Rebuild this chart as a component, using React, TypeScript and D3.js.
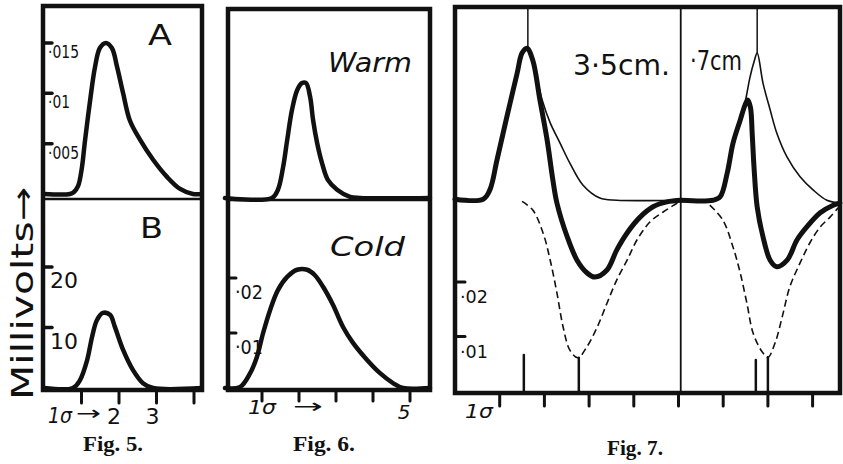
import React, { useEffect, useRef } from 'react'
import * as d3 from 'd3'

// time in sigma (ms) , value in the panel's own units
// Fig. 5 A  (volts)
const fig5A = [[0, 0], [0.69, 0], [0.80, 0.0002], [0.91, 0.0008], [1.01, 0.0026], [1.09, 0.0052], [1.23, 0.0093], [1.36, 0.0126], [1.49, 0.0145], [1.65, 0.0150], [1.81, 0.0145], [1.95, 0.0126], [2.11, 0.0100], [2.29, 0.0073], [2.56, 0.0054], [2.91, 0.0034], [3.28, 0.0017], [3.63, 0.0005], [3.97, 0], [4.21, 0]]
// Fig. 5 B  (millivolts)
const fig5B = [[0, 0], [0.77, 0], [0.96, 1.3], [1.15, 4.6], [1.28, 8.4], [1.41, 11.2], [1.57, 12.4], [1.76, 12.1], [1.89, 10.1], [2.11, 6.3], [2.37, 3.0], [2.64, 0.8], [2.91, 0], [4.21, 0]]
const fig5XTicks = [1, 2, 3, 4]
const fig5ATicks = [0.005, 0.01, 0.015]
const fig5ATickLabels = ['·005', '·01', '·015']
const fig5BTicks = [10, 20]
const fig5BTickLabels = ['10', '20']

// Fig. 6
const fig6Warm = [[0, 0], [1.27, 0], [1.43, 0.0015], [1.57, 0.0056], [1.68, 0.0105], [1.81, 0.0160], [1.95, 0.0196], [2.08, 0.0209], [2.19, 0.0209], [2.30, 0.0184], [2.38, 0.0142], [2.49, 0.0100], [2.62, 0.0064], [2.78, 0.0033], [3.03, 0.0015], [3.38, 0.0002], [3.65, 0], [5.54, 0]]
const fig6Cold = [[0, 0], [0.41, 0.0002], [0.68, 0.0027], [0.86, 0.0056], [1.03, 0.0100], [1.22, 0.0142], [1.43, 0.0178], [1.68, 0.0202], [1.95, 0.0215], [2.22, 0.0215], [2.43, 0.0205], [2.65, 0.0184], [2.92, 0.0151], [3.19, 0.0111], [3.46, 0.0082], [3.84, 0.0051], [4.19, 0.0027], [4.54, 0.0009], [4.81, 0], [5.54, 0]]
const fig6XTicks = [1, 2, 3, 4, 5]
const fig6YTicks = [0.01, 0.02]
const fig6YTickLabels = ['·01', '·02']

// Fig. 7  (3.5 cm and .7 cm)
const fig7Thick35 = [[0, 0.0352], [0.63, 0.0352], [0.78, 0.0369], [0.94, 0.0424], [1.16, 0.0503], [1.39, 0.0583], [1.50, 0.0620], [1.61, 0.0629], [1.74, 0.0607], [1.90, 0.0534], [2.06, 0.0461], [2.19, 0.0387], [2.28, 0.0345], [2.51, 0.0283], [2.73, 0.0240], [2.95, 0.0217], [3.13, 0.0209], [3.40, 0.0222], [3.62, 0.0259], [3.85, 0.0290], [4.14, 0.0319], [4.43, 0.0338], [4.74, 0.0347], [5.06, 0.0350]]
const fig7Thin35 = [[1.50, 0.0620], [1.61, 0.0629], [1.74, 0.0604], [1.95, 0.0534], [2.13, 0.0492], [2.35, 0.0455], [2.57, 0.0418], [2.86, 0.0378], [3.24, 0.0354], [3.62, 0.0350], [5.06, 0.0350], [5.77, 0.0350]]
const fig7Dash35 = [[1.50, 0.0348], [1.74, 0.0332], [1.97, 0.0290], [2.13, 0.0240], [2.28, 0.0180], [2.42, 0.0117], [2.57, 0.0075], [2.75, 0.0061], [2.95, 0.0081], [3.18, 0.0117], [3.40, 0.0161], [3.62, 0.0204], [3.85, 0.0240], [4.07, 0.0277], [4.36, 0.0310], [4.65, 0.0328], [4.97, 0.0345], [5.06, 0.0350]]
const fig7Thick07 = [[5.06, 0.0350], [5.77, 0.0350], [5.93, 0.0356], [6.09, 0.0400], [6.22, 0.0455], [6.38, 0.0497], [6.49, 0.0525], [6.55, 0.0534], [6.61, 0.0520], [6.65, 0.0470], [6.69, 0.0410], [6.76, 0.0338], [6.89, 0.0283], [7.05, 0.0240], [7.20, 0.0228], [7.43, 0.0240], [7.65, 0.0277], [7.87, 0.0301], [8.17, 0.0327], [8.46, 0.0341], [8.61, 0.0345]]
const fig7Thin07 = [[6.38, 0.0497], [6.49, 0.0530], [6.60, 0.0576], [6.69, 0.0604], [6.76, 0.0620], [6.89, 0.0565], [7.05, 0.0516], [7.20, 0.0473], [7.43, 0.0429], [7.72, 0.0393], [8.01, 0.0369], [8.32, 0.0350], [8.61, 0.0345]]
const fig7Dash07 = [[5.70, 0.0341], [5.99, 0.0314], [6.22, 0.0264], [6.38, 0.0217], [6.53, 0.0161], [6.67, 0.0106], [6.87, 0.0072], [7.00, 0.0062], [7.16, 0.0088], [7.32, 0.0136], [7.49, 0.0191], [7.72, 0.0235], [7.94, 0.0272], [8.17, 0.0301], [8.39, 0.0319], [8.57, 0.0336]]
const fig7Markers = [[1.54, 0.0066], [2.77, 0.0061], [6.73, 0.0057], [7.00, 0.0062]]
const fig7PeakLines = [[1.63, 0.0631], [6.76, 0.0620]]
const fig7Middle = 5.05
const fig7XTicks = [1, 2, 3, 4, 5, 6, 7, 8]
const fig7YTicks = [0.01, 0.02]
const fig7YTickLabels = ['·01', '·02']

const INK = '#111'
const HAND = '"DejaVu Sans", sans-serif'
const PRINT = '"Liberation Serif", serif'

export default function App() {
  const ref = useRef<SVGSVGElement>(null)

  useEffect(() => {
    const svg = d3.select(ref.current)
    svg.selectAll('*').remove()

    const curve = (g: any, data: number[][], x: any, y: any, w: number, dash?: string) => {
      const line = d3.line<number[]>()
        .x(d => x(d[0]))
        .y(d => y(d[1]))
        .curve(d3.curveCatmullRom.alpha(0.5))
      const p = g.append('path').datum(data)
        .attr('d', line)
        .attr('fill', 'none')
        .attr('stroke', INK)
        .attr('stroke-width', w)
        .attr('stroke-linejoin', 'round')
        .attr('stroke-linecap', 'round')
      if (dash) p.attr('stroke-dasharray', dash).attr('stroke-linecap', 'butt')
    }
    const txt = (t: string, x: number, y: number, size: number, opts: any = {}) => {
      const e = svg.append('text')
        .attr('x', x).attr('y', y)
        .attr('font-family', opts.family || HAND)
        .attr('font-size', size)
        .attr('fill', INK)
        .attr('text-anchor', opts.anchor || 'start')
        .text(t)
      if (opts.italic) e.attr('font-style', 'italic')
      if (opts.bold) e.attr('font-weight', 'bold')
      if (opts.len) e.attr('textLength', opts.len).attr('lengthAdjust', 'spacingAndGlyphs')
      if (opts.transform) e.attr('transform', opts.transform)
      return e
    }
    const seg = (x1: number, y1: number, x2: number, y2: number, w: number) =>
      svg.append('line').attr('x1', x1).attr('y1', y1).attr('x2', x2).attr('y2', y2)
        .attr('stroke', INK).attr('stroke-width', w).attr('stroke-linecap', 'round')

    // ---------- Fig. 5 ----------
    const x5 = d3.scaleLinear().domain([0, 4]).range([44, 194])
    const yA = d3.scaleLinear().domain([0, 0.015]).range([194, 43])
    const yB = d3.scaleLinear().domain([0, 20]).range([388, 267])
    const g5 = svg.append('g')
    curve(g5, fig5A, x5, yA, 4.5)
    curve(g5, fig5B, x5, yB, 4.5)
    seg(43, 199, 202, 199, 2.5)
    g5.append('rect').attr('x', 43).attr('y', 6).attr('width', 159).attr('height', 384)
      .attr('fill', 'none').attr('stroke', INK).attr('stroke-width', 4.5)
    fig5XTicks.forEach(t => seg(x5(t), 390, x5(t), 403, 3))
    fig5ATicks.forEach((t, i) => {
      seg(43, yA(t), 52, yA(t), 3.5)
      txt(fig5ATickLabels[i], 48, yA(t) + 15, 17, { len: i === 1 ? 22 : 31 })
    })
    fig5BTicks.forEach((t, i) => {
      seg(43, yB(t), 52, yB(t), 3.5)
      txt(fig5BTickLabels[i], 50, yB(t) + 21, 22)
    })
    txt('A', 148, 45, 28, { len: 24 })
    txt('B', 140, 238, 28, { len: 23 })
    txt('1σ', 48, 423, 22, { italic: true, len: 24 })
    txt('→', 76, 420, 20, { len: 25 })
    txt('2', x5(2) - 5, 424, 22, { anchor: 'middle' })
    txt('3', x5(3) - 4, 424, 22, { anchor: 'middle' })
    txt('Millivolts→', 0, 0, 30, { len: 213, transform: 'translate(33,400) rotate(-90)' })
    txt('Fig. 5.', 113, 451, 20, { family: PRINT, bold: true, anchor: 'middle', len: 60 })

    // ---------- Fig. 6 ----------
    const x6 = d3.scaleLinear().domain([0, 5]).range([225, 410])
    const yWarm = d3.scaleLinear().domain([0, 0.02]).range([198, 88])
    const yCold = d3.scaleLinear().domain([0, 0.02]).range([388, 278])
    const g6 = svg.append('g')
    curve(g6, fig6Warm, x6, yWarm, 4.5)
    curve(g6, fig6Cold, x6, yCold, 4.5)
    seg(228, 200, 430, 200, 2.5)
    g6.append('rect').attr('x', 228).attr('y', 9).attr('width', 202).attr('height', 381)
      .attr('fill', 'none').attr('stroke', INK).attr('stroke-width', 4.5)
    fig6XTicks.forEach(t => seg(x6(t), 390, x6(t), 401, 3))
    fig6YTicks.forEach((t, i) => {
      seg(228, yCold(t), 236, yCold(t), 3)
      txt(fig6YTickLabels[i], 235, yCold(t) + 21, 19, { len: 28 })
    })
    txt('Warm', 328, 72, 26, { italic: true, len: 84 })
    txt('Cold', 330, 256, 26, { italic: true, len: 75 })
    txt('1σ', 248, 414, 20, { italic: true, len: 28 })
    txt('→', 293, 413, 20, { len: 30 })
    txt('5', x6(5) - 6, 419, 20, { anchor: 'middle', italic: true })
    txt('Fig. 6.', 324, 451, 20, { family: PRINT, bold: true, anchor: 'middle', len: 62 })

    // ---------- Fig. 7 ----------
    const x7 = d3.scaleLinear().domain([0, 8]).range([455, 812.6])
    const y7 = d3.scaleLinear().domain([0, 0.02]).range([391, 282])
    const g7 = svg.append('g')
    seg(x7(fig7Middle), 7, x7(fig7Middle), 393, 1.8)
    fig7PeakLines.forEach(d => seg(x7(d[0]), 7, x7(d[0]), y7(d[1]), 1.5))
    fig7Markers.forEach(d => seg(x7(d[0]), y7(d[1]), x7(d[0]), 393, 2.5))
    curve(g7, fig7Dash35, x7, y7, 1.6, '7 4')
    curve(g7, fig7Dash07, x7, y7, 1.6, '7 4')
    curve(g7, fig7Thin35, x7, y7, 1.6)
    curve(g7, fig7Thin07, x7, y7, 1.6)
    curve(g7, fig7Thick35, x7, y7, 5)
    curve(g7, fig7Thick07, x7, y7, 5)
    g7.append('rect').attr('x', 455).attr('y', 7).attr('width', 385).attr('height', 386)
      .attr('fill', 'none').attr('stroke', INK).attr('stroke-width', 4.5)
    fig7XTicks.forEach(t => seg(x7(t), 393, x7(t), 406, 3))
    fig7YTicks.forEach((t, i) => {
      seg(455, y7(t), 465, y7(t), 3)
      txt(fig7YTickLabels[i], 460, y7(t) + 21, 18, { len: 28 })
    })
    txt('3·5cm.', 573, 75, 28, { len: 97 })
    txt('·7cm', 690, 70, 26, { len: 52 })
    txt('1σ', 465, 418, 19, { italic: true, len: 28 })
    txt('Fig. 7.', 635, 455, 20, { family: PRINT, bold: true, anchor: 'middle', len: 56 })
  }, [])

  return (
    <svg ref={ref} width={843} height={464}
      style={{ position: 'absolute', left: 0, top: 0, background: '#fff' }} />
  )
}
